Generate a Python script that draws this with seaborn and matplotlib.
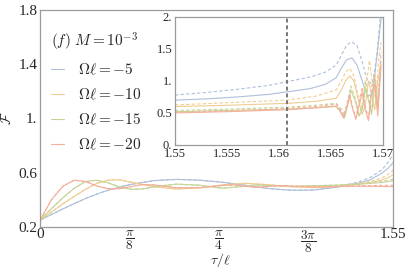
import numpy as np
import pandas as pd
import matplotlib
matplotlib.use("Agg")
import matplotlib.pyplot as plt
import seaborn as sns
from matplotlib.lines import Line2D

sns.set_style("white")
plt.rcParams['font.family'] = ['Liberation Serif', 'DejaVu Serif']
plt.rcParams['mathtext.fontset'] = 'cm'

# ---------------- data ----------------
labels = [r"$\Omega\ell=-5$", r"$\Omega\ell=-10$", r"$\Omega\ell=-15$", r"$\Omega\ell=-20$"]
colors = ["#afc0da", "#f0cd91", "#c7d498", "#f4b09a"]

# main panel
m5_x = [0, 0.05, 0.1, 0.15, 0.2, 0.25, 0.3, 0.35, 0.4, 0.5, 0.6, 0.7, 0.8, 0.9, 1.0, 1.1, 1.2, 1.3, 1.4, 1.45, 1.5, 1.53, 1.55]
m5_y = [0.25, 0.292, 0.333, 0.372, 0.41, 0.443, 0.472, 0.495, 0.514, 0.542, 0.551, 0.545, 0.53, 0.508, 0.484, 0.471, 0.472, 0.492, 0.524, 0.548, 0.595, 0.635, 0.674]
m5_yd = [0.25, 0.292, 0.333, 0.372, 0.41, 0.443, 0.472, 0.495, 0.514, 0.542, 0.551, 0.545, 0.53, 0.508, 0.484, 0.471, 0.473, 0.495, 0.532, 0.565, 0.62, 0.68, 0.733]

m10_x = [0, 0.05, 0.1, 0.15, 0.2, 0.25, 0.3, 0.35, 0.4, 0.5, 0.6, 0.7, 0.8, 0.9, 1.0, 1.1, 1.2, 1.3, 1.4, 1.45, 1.5, 1.53, 1.55]
m10_y = [0.25, 0.31, 0.37, 0.425, 0.478, 0.522, 0.545, 0.548, 0.53, 0.497, 0.48, 0.488, 0.51, 0.522, 0.512, 0.498, 0.49, 0.498, 0.515, 0.528, 0.545, 0.565, 0.585]
m10_yd = [0.25, 0.31, 0.37, 0.425, 0.478, 0.522, 0.545, 0.548, 0.53, 0.497, 0.48, 0.488, 0.51, 0.522, 0.512, 0.498, 0.49, 0.5, 0.52, 0.536, 0.56, 0.59, 0.62]

m15_x = [0, 0.05, 0.1, 0.15, 0.2, 0.25, 0.3, 0.35, 0.4, 0.45, 0.5, 0.6, 0.7, 0.8, 0.9, 0.95, 1.0, 1.1, 1.2, 1.3, 1.4, 1.5, 1.55]
m15_y = [0.25, 0.335, 0.415, 0.485, 0.535, 0.545, 0.525, 0.495, 0.478, 0.48, 0.497, 0.516, 0.508, 0.486, 0.5, 0.51, 0.506, 0.498, 0.504, 0.508, 0.515, 0.528, 0.54]
m15_yd = [0.25, 0.335, 0.415, 0.485, 0.535, 0.545, 0.525, 0.495, 0.478, 0.48, 0.497, 0.516, 0.508, 0.486, 0.5, 0.51, 0.506, 0.498, 0.504, 0.509, 0.518, 0.535, 0.552]

m20_x = [0, 0.05, 0.1, 0.15, 0.2, 0.25, 0.3, 0.35, 0.4, 0.45, 0.5, 0.6, 0.7, 0.8, 0.85, 0.95, 1.05, 1.15, 1.25, 1.35, 1.45, 1.55]
m20_y = [0.25, 0.40, 0.50, 0.545, 0.535, 0.502, 0.482, 0.482, 0.498, 0.513, 0.51, 0.489, 0.49, 0.506, 0.51, 0.492, 0.505, 0.499, 0.495, 0.5, 0.5, 0.498]
m20_yd = [0.25, 0.40, 0.50, 0.545, 0.535, 0.502, 0.482, 0.482, 0.498, 0.513, 0.51, 0.489, 0.49, 0.506, 0.51, 0.492, 0.505, 0.499, 0.496, 0.502, 0.505, 0.508]

# inset panel
i5_x = [1.55, 1.553, 1.556, 1.559, 1.5608, 1.563, 1.5645, 1.5655, 1.5660, 1.5665, 1.5670, 1.5675, 1.5680, 1.5685, 1.5690, 1.5695, 1.5699]
i5_y = [0.70, 0.72, 0.75, 0.79, 0.83, 0.88, 0.95, 1.05, 1.20, 1.33, 1.36, 1.25, 1.00, 0.76, 0.80, 1.50, 2.10]
i5d_x = [1.55, 1.553, 1.556, 1.559, 1.5608, 1.563, 1.5645, 1.5655, 1.5660, 1.5665, 1.5670, 1.5675, 1.5680, 1.5685, 1.5690, 1.5694, 1.5698]
i5d_y = [0.78, 0.82, 0.87, 0.93, 0.99, 1.06, 1.14, 1.25, 1.40, 1.56, 1.61, 1.55, 1.30, 1.00, 0.95, 1.40, 2.10]

i10_x = [1.55, 1.555, 1.5608, 1.5635, 1.5655, 1.5660, 1.5664, 1.5668, 1.5672, 1.5676, 1.5680, 1.5683, 1.5686, 1.5689, 1.5692, 1.5695, 1.5698]
i10_y = [0.60, 0.62, 0.65, 0.68, 0.73, 0.86, 1.00, 1.08, 1.00, 0.72, 0.48, 0.62, 1.00, 0.80, 0.55, 1.00, 1.25]
i10d_x = [1.55, 1.555, 1.5608, 1.5635, 1.5655, 1.5660, 1.5664, 1.5668, 1.5672, 1.5676, 1.5680, 1.5684, 1.5687, 1.5690, 1.5693, 1.5696, 1.5698]
i10d_y = [0.625, 0.66, 0.70, 0.76, 0.86, 1.00, 1.14, 1.20, 1.08, 0.78, 0.55, 0.95, 1.32, 0.95, 0.70, 1.35, 1.60]

i15_x = [1.55, 1.555, 1.5608, 1.5635, 1.5655, 1.5660, 1.5663, 1.5666, 1.5669, 1.5673, 1.5677, 1.5680, 1.5683, 1.5686, 1.5689, 1.5692, 1.5695, 1.5698]
i15_y = [0.52, 0.54, 0.56, 0.58, 0.60, 0.50, 0.42, 0.62, 0.86, 0.70, 0.45, 0.55, 0.90, 0.70, 0.48, 0.95, 0.60, 1.20]
i15d_x = [1.55, 1.555, 1.5608, 1.5635, 1.5655, 1.5660, 1.5663, 1.5666, 1.5669, 1.5673, 1.5677, 1.5680, 1.5683, 1.5686, 1.5689, 1.5692, 1.5695, 1.5698]
i15d_y = [0.54, 0.56, 0.59, 0.62, 0.65, 0.56, 0.46, 0.68, 0.92, 0.75, 0.48, 0.62, 1.00, 0.75, 0.52, 1.10, 0.70, 1.30]

i20_x = [1.55, 1.555, 1.5608, 1.5635, 1.5655, 1.5658, 1.5662, 1.5665, 1.5668, 1.5671, 1.5674, 1.5677, 1.5680, 1.5683, 1.5686, 1.5689, 1.5692, 1.5695, 1.5698]
i20_y = [0.50, 0.52, 0.55, 0.58, 0.61, 0.55, 0.42, 0.58, 0.75, 0.55, 0.40, 0.62, 0.82, 0.55, 0.38, 0.80, 0.95, 0.45, 1.25]
i20d_x = [1.55, 1.555, 1.5608, 1.5635, 1.5655, 1.5658, 1.5662, 1.5665, 1.5668, 1.5671, 1.5674, 1.5677, 1.5680, 1.5683, 1.5686, 1.5689, 1.5692, 1.5695, 1.5698]
i20d_y = [0.51, 0.53, 0.57, 0.60, 0.64, 0.58, 0.45, 0.62, 0.80, 0.58, 0.43, 0.68, 0.90, 0.60, 0.42, 0.90, 1.10, 0.55, 1.45]

vline_x = 1.5608

main_solid = [(m5_x, m5_y), (m10_x, m10_y), (m15_x, m15_y), (m20_x, m20_y)]
main_dash = [(m5_x, m5_yd), (m10_x, m10_yd), (m15_x, m15_yd), (m20_x, m20_yd)]
ins_solid = [(i5_x, i5_y), (i10_x, i10_y), (i15_x, i15_y), (i20_x, i20_y)]
ins_dash = [(i5d_x, i5d_y), (i10d_x, i10d_y), (i15d_x, i15d_y), (i20d_x, i20d_y)]

# ---------------- figure ----------------
fig = plt.figure(figsize=(4.07, 2.68), dpi=100)
ax = fig.add_axes([0.0983, 0.153, 0.8673, 0.810])
frame_c = "#9a9a9a"

for (x, y), (xd, yd), c in zip(main_solid, main_dash, colors):
    sns.lineplot(x=x, y=y, ax=ax, color=c, lw=0.8)
    sns.lineplot(x=xd, y=yd, ax=ax, color=c, lw=0.8, linestyle=(0, (3, 2)))

ax.set_xlim(0, 1.55)
ax.set_ylim(0.2, 1.8)
ax.set_yticks([0.2, 0.6, 1.0, 1.4, 1.8])
ax.set_yticklabels(["0.2", "0.6", "1.", "1.4", "1.8"])
ax.set_yticks([0.4, 0.8, 1.2, 1.6], minor=True)
ax.set_xticks([0, np.pi / 8, np.pi / 4, 3 * np.pi / 8, 1.55])
ax.set_xticklabels(["0", r"$\dfrac{\pi}{8}$", r"$\dfrac{\pi}{4}$", r"$\dfrac{3\pi}{8}$", "1.55"])
ax.tick_params(axis='both', which='both', direction='in', color=frame_c, labelsize=11, pad=2)
ax.tick_params(axis='x', which='major', labelsize=11, pad=1)
ax.tick_params(axis='both', which='major', length=3)
ax.tick_params(axis='both', which='minor', length=1.5)
for lbl in ax.get_xticklabels()[1:4]:
    lbl.set_fontsize(9.5)
for s in ax.spines.values():
    s.set_color(frame_c)
    s.set_linewidth(0.9)
ax.set_xlabel(r"$\tau/\ell$", fontsize=10)
ax.set_ylabel(r"$\mathcal{F}$", fontsize=10)
ax.xaxis.set_label_coords(0.51, -0.11)
ax.yaxis.set_label_coords(-0.075, 0.5)

handles = [Line2D([0], [0], color=c, lw=0.8) for c in colors]
leg = ax.legend(handles, labels, loc="upper left", bbox_to_anchor=(0.0, 0.955),
                frameon=False, fontsize=11, title=r"$(f)\ M=10^{-3}$", title_fontsize=11,
                handlelength=0.9, handletextpad=0.9, labelspacing=0.62, borderaxespad=0.3)
leg._legend_box.align = "left"

# inset
axi = fig.add_axes([0.43, 0.459, 0.511, 0.478])
for (x, y), (xd, yd), c in zip(ins_solid, ins_dash, colors):
    sns.lineplot(x=x, y=y, ax=axi, color=c, lw=0.8)
    sns.lineplot(x=xd, y=yd, ax=axi, color=c, lw=0.8, linestyle=(0, (3, 2)))
axi.axvline(vline_x, color="#777777", lw=1.4, linestyle=(0, (2, 1.5)))
axi.set_xlim(1.55, 1.57)
axi.set_ylim(0, 2)
axi.set_xticks([1.55, 1.555, 1.56, 1.565, 1.57])
axi.set_xticklabels(["1.55", "1.555", "1.56", "1.565", "1.57"])
axi.set_yticks([0, 0.5, 1.0, 1.5, 2.0])
axi.set_yticklabels(["0.", "0.5", "1.", "1.5", "2."])
axi.tick_params(axis='both', which='both', direction='in', color=frame_c, labelsize=9, pad=2, length=3)
for s in axi.spines.values():
    s.set_color(frame_c)
    s.set_linewidth(0.9)
axi.set_xlabel("")
axi.set_ylabel("")
axi.set_facecolor("white")

fig.savefig("out.png", dpi=100)
